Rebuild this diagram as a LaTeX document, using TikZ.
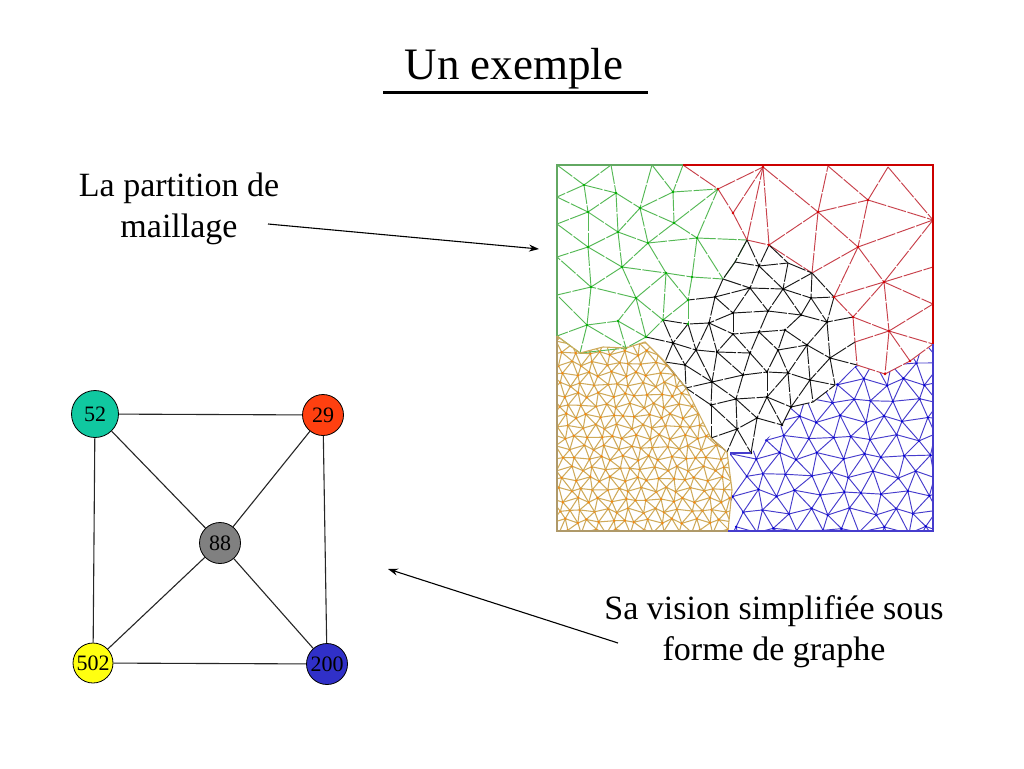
\documentclass[tikz,border=0pt]{standalone}
\usepackage{fontspec}
\setmainfont{Liberation Serif}
\definecolor{cgreen}{RGB}{85,185,85}
\definecolor{cred}{RGB}{200,65,75}
\definecolor{ctan}{RGB}{207,170,90}
\definecolor{cblue}{RGB}{70,60,205}
\definecolor{cblack}{RGB}{25,25,25}
\usetikzlibrary{arrows.meta}
\tikzset{
 meshline/.style={line width=0.95pt,dash pattern=on 19pt off 1.6pt},
 gnode/.style={circle,draw=black,line width=0.8pt,inner sep=0pt,text=black,font=\fontsize{22}{24}\selectfont},
 edgeline/.style={draw=black!85,line width=1.1pt},
 pointer/.style={draw=black,line width=1.1pt,-{Stealth[length=10pt,width=7pt]}},
 caption/.style={align=center,text=black,font=\fontsize{34}{41}\selectfont},
}
\newcommand{\nlabel}[1]{\raisebox{-2pt}{#1}}
\newcommand{\meshgrid}[8]{% prefix cols rows x0 y0 sx sy jitter
 \foreach \i in {0,...,#2}{\foreach \j in {0,...,#3}{
  \ifodd\j\def\sh{0.5}\else\def\sh{0}\fi
  \pgfmathsetmacro\px{#4+#6*(\i+\sh)+#8*sin(\i*97+\j*211)}
  \pgfmathsetmacro\py{#5+#7*\j+#8*cos(\i*163+\j*71)}
  \coordinate (#1-\i-\j) at (\px,\py);
 }}
}
\newcommand{\meshedges}[6]{% prefix cols rows colour dotcolour width
 \pgfmathtruncatemacro\cm{#2-1}\pgfmathtruncatemacro\rm{#3-1}
 \foreach \i in {1,...,\cm}{\foreach \j in {0,...,\rm}{
  \pgfmathtruncatemacro\ip{\i+1}\pgfmathtruncatemacro\im{\i-1}\pgfmathtruncatemacro\jp{\j+1}
  \ifodd\j\def\other{\ip}\else\def\other{\im}\fi
  \draw[#4,line width=#6] (#1-\ip-\j)--(#1-\i-\j)--(#1-\i-\jp) (#1-\i-\j)--(#1-\other-\jp);
  \fill[#5] (#1-\i-\j) circle (1.3);
 }}
}
\begin{document}
\begin{tikzpicture}[x=1pt,y=-1pt]
\useasboundingbox (0,0) rectangle (1024,768);
\fill[white] (0,0) rectangle (1024,768);
% ---- title
\node[anchor=base,font=\fontsize{45}{50}\selectfont] (title) at (514,79) {Un exemple};
\coordinate (ruleL) at (383,92.5); \coordinate (ruleR) at (648,92.5);
\draw[line width=3.5pt] (ruleL)--(ruleR);
% ---- captions
\node[caption] (cap1) at (179,209) {La partition de\\maillage};
\node[caption] (cap2) at (774,632) {Sa vision simplifiée sous\\forme de graphe};
\coordinate (a1s) at (268,224); \coordinate (a1e) at (539,249);
\coordinate (a2s) at (618,643); \coordinate (a2e) at (388,569);
\draw[pointer] (a1s)--(a1e);
\draw[pointer] (a2s)--(a2e);
% ---- graph
\node[gnode,fill={rgb,255:red,16;green,200;blue,160},minimum size=47pt] (n52) at (95,414) {\nlabel{52}};
\node[gnode,fill={rgb,255:red,255;green,64;blue,16},minimum size=41pt] (n29) at (323,415) {\nlabel{29}};
\node[gnode,fill={rgb,255:red,128;green,128;blue,128},minimum size=41pt] (n88) at (220,543) {\nlabel{88}};
\node[gnode,fill={rgb,255:red,255;green,255;blue,16},minimum size=40pt] (n502) at (93,663) {\nlabel{502}};
\node[gnode,fill={rgb,255:red,48;green,48;blue,200},minimum size=41pt] (n200) at (327,664) {\nlabel{200}};
\foreach \a/\b in {n52/n29,n52/n88,n52/n502,n29/n88,n29/n200,n88/n502,n88/n200,n502/n200}
  \draw[edgeline] (\a)--(\b);
% ---- mesh: tan and blue fine regions
\begin{scope}
\clip (557,336)--(580,353)--(603,347)--(626,349)--(645,342)--(665,362)--(686,388)--(711,438)--(727,452)--(732,490)--(728,531)--(557,531)--cycle;
\meshgrid{t}{17}{20}{540}{332}{12}{10.5}{2.4}
\meshedges{t}{17}{20}{ctan}{orange!85!ctan}{1.05pt}
\end{scope}
\begin{scope}
\clip (730,453)--(751,453)--(782,425)--(791,407)--(813,402)--(835,385)--(857,365)--(885,374)--(910,361)--(933,345)--(933,531)--(728,531)--(732,490)--cycle;
\meshgrid{u}{12}{11}{712}{345}{21.5}{18.5}{3.6}
\meshedges{u}{12}{11}{cblue}{blue!85!black}{0.95pt}
\end{scope}
% ---- coordinates of coarse regions
\foreach \n/\x/\y in {a/584/185,b/616/193,c/588/212,d/640/208,e/673/192,f/718/189,g/674/223,h/697/238,i/747/240,j/648/243,k/618/232,l/588/247,m/622/267,n/666/273,o/692/277,p/723/279,q/735/262,r/591/287,s/636/298,t/688/300,u/663/320,v/688/324,w/618/321,x/587/325,y/646/337,z/626/348,
 LA/557/165,LB/557/197,LC/557/224,LD/557/257,LE/557/295,LF/557/336,TA/611/165,TB/652/165,TC/683/165,GB/580/353,
 RA/763/167,RB/769/245,RD/818/212,RE/868/200,RF/888/167,RG/828/166,RH/933/220,RI/858/247,RJ/812/273,RK/884/282,RL/933/267,RM/834/297,RN/933/304,RO/853/317,RP/889/331,RQ/855/342,RR/933/344,RS/733/213,RT/857/365,RU/885/374,RV/910/361,RW/933/165,
 K1/715/297,K2/750/288,K3/733/313,K4/709/323,K5/733/334,K6/673/343,K7/696/350,K8/717/352,K9/750/353,K10/778/350,K11/807/345,K12/759/332,K13/785/330,K14/768/311,K15/759/266,K16/783/289,K17/788/263,K18/811/298,K19/801/315,K20/827/322,
 K21/685/365,K22/665/362,K23/712/382,K24/743/375,K25/767/372,K26/788/373,K27/810/380,K28/830/358,K29/835/385,K30/686/388,K31/736/399,K32/767/397,K33/791/407,K34/711/405,K35/757/418,K36/737/429,K37/782/425,K38/711/438,K39/751/453,K40/813/402,K41/727/452}
  \coordinate (\n) at (\x,\y);
% ---- green
\foreach \a/\b in {LA/a,a/TA,a/LB,a/b,a/c,TA/b,b/k,b/c,b/d,TB/d,TB/e,TC/e,d/e,e/f,e/g,d/g,g/f,g/h,h/f,h/i,h/p,h/o,d/k,d/j,g/j,j/h,c/LB,c/LC,c/l,c/k,LC/l,l/k,l/LD,l/m,l/r,k/m,k/j,j/m,j/n,m/r,m/n,m/s,n/o,n/u,n/s,n/t,o/p,o/t,t/v,t/u,s/u,s/w,s/r,s/y,r/LD,r/LE,r/x,x/LE,x/w,x/LF,w/y,w/z,y/u,y/z,x/z,x/GB,LF/GB,GB/z,i/q,q/p}
  \draw[meshline,cgreen] (\a)--(\b);
\draw[line width=1.4pt,color=cgreen!70!gray] (TC)--(LA)--(LF);
% ---- red
\foreach \a/\b in {TC/f,f/RS,RS/i,f/RA,RS/RA,i/RA,RA/RB,i/RB,RA/RD,RB/RD,RD/RG,RD/RE,RG/RE,RE/RF,RF/RH,RE/RH,RD/RI,RE/RI,RI/RH,RD/RJ,RB/RJ,RI/RJ,RI/RM,RI/RK,RK/RH,RK/RL,RK/RN,RK/RM,RM/RO,RK/RO,RO/RP,RP/RN,RK/RP,RO/RQ,RQ/RP,RP/RR,RQ/RT,RP/RU,RP/RV,RT/RU,RU/RV,RV/RR}
  \draw[meshline,cred] (\a)--(\b);
\draw[line width=1.4pt,color=red!80!black] (TC)--(RW)--(RR);
% ---- black
\foreach \a/\b in {i/q,i/K15,q/K15,q/p,K15/K17,K15/K2,RB/K15,RB/K17,K17/RJ,K17/K16,K15/K16,K2/K16,K16/RJ,K16/K18,K16/K14,K16/K19,K18/K19,RJ/K18,RJ/RM,K18/RM,K18/K20,RM/K20,K19/K20,K2/K14,K2/K1,p/K1,p/K2,K1/t,K1/K4,K1/K3,K3/K14,K3/K4,K3/K5,K3/K2,K14/K19,K14/K12,K19/K13,K12/K13,K13/K11,K20/K11,RO/K20,K12/K5,K12/K9,K12/K10,K13/K10,K10/K11,K5/K8,K5/K9,K4/K5,K4/K7,K4/v,K4/K8,v/K6,v/K7,u/K6,u/v,y/K6,K6/K7,K6/K22,K6/K21,K7/K8,K7/K21,K7/K23,K8/K23,K8/K24,K8/K9,K9/K24,K9/K25,K10/K25,K10/K26,K11/K26,K11/K27,K11/K28,K20/K28,K28/RQ,K28/RT,K28/K29,K28/K27,K27/K29,K27/K26,K26/K25,K24/K25,K24/K23,K21/K23,K21/K22,K21/K30,K22/K30,K23/K30,K23/K34,K23/K31,K24/K31,K25/K32,K26/K32,K26/K33,K27/K33,K27/K40,K31/K32,K31/K34,K31/K35,K31/K36,K32/K35,K32/K33,K32/K37,K33/K37,K34/K30,K34/K38,K34/K36,K35/K36,K35/K37,K35/K39,K36/K38,K36/K39,K36/K41,K38/K41,K33/K40,K40/K29}
  \draw[meshline,cblack] (\a)--(\b);
% ---- dots at vertices
\foreach \n in {a,b,c,d,e,g,h,j,k,l,m,n,o,r,s,t,u,v,w,x,y,z} \fill[green!70!black] (\n) circle (1.3);
\foreach \n in {RA,RB,RD,RE,RI,RK,RM,RP,RO,RU,RV,f,RS} \fill[red!85!black] (\n) circle (1.3);
\foreach \n in {K1,K2,K3,K4,K5,K6,K7,K8,K9,K10,K11,K12,K13,K14,K15,K16,K18,K19,K20,K21,K23,K24,K25,K26,K27,K28,K31,K32,K33,K34,K35,K36,K37,K39} \fill[black] (\n) circle (1.3);
% ---- outer borders of the fine regions
\draw[line width=1.4pt,color=ctan!60!gray] (LF)--(557,531)--(728,531);
\draw[line width=1.1pt,color=ctan] (LF)--(GB)--(603,347)--(z)--(645,342)--(K22)--(K30)--(K38)--(K41)--(732,490)--(728,531);
\draw[line width=1.4pt,color=cblue] (728,531)--(933,531)--(RR);
\draw[line width=1.1pt,color=cblue] (730,453)--(K39);
\end{tikzpicture}
\end{document}
